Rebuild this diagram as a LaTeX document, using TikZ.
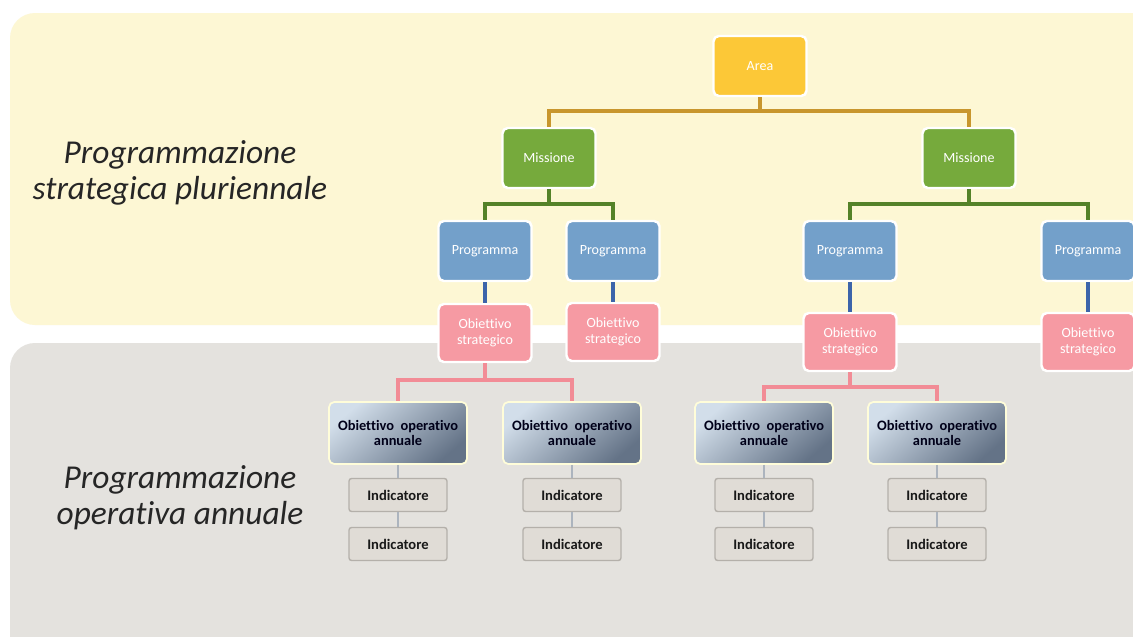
\documentclass[tikz,border=0pt]{standalone}
\usepackage{fontspec}
\setmainfont[Ligatures=CommonOff]{Carlito}
\usepackage{tikz}
\usetikzlibrary{positioning,calc}

\definecolor{panelyellow}{RGB}{253,247,212}
\definecolor{panelgray}{RGB}{228,226,222}
\definecolor{areafill}{RGB}{252,200,55}
\definecolor{misfill}{RGB}{118,170,60}
\definecolor{progfill}{RGB}{115,160,202}
\definecolor{osfill}{RGB}{246,154,163}
\definecolor{goldline}{RGB}{200,150,45}
\definecolor{greenline}{RGB}{84,130,40}
\definecolor{blueline}{RGB}{60,100,170}
\definecolor{pinkline}{RGB}{242,140,150}
\definecolor{grayline}{RGB}{172,180,190}
\definecolor{indfill}{RGB}{224,220,214}
\definecolor{inddraw}{RGB}{180,176,170}
\definecolor{ooalight}{RGB}{210,222,234}
\definecolor{ooadark}{RGB}{100,115,135}

\tikzset{
 topbox/.style={draw=white,line width=1.4pt,rounded corners=3pt,inner sep=0pt,
   text=white,align=center,font=\fontsize{8}{9}\selectfont,
   minimum width=1.86cm,minimum height=1.2cm},
 areabox/.style={topbox,fill=areafill},
 misbox/.style={topbox,fill=misfill},
 progbox/.style={topbox,fill=progfill},
 osbox/.style={topbox,fill=osfill,minimum height=1.16cm},
 ooabox/.style={draw=white!85!yellow,line width=1pt,rounded corners=3pt,inner sep=0pt,
   top color=ooalight,bottom color=ooadark,shading angle=40,
   text=black!90!blue,align=center,font=\fontsize{8.2}{9}\selectfont\bfseries,
   minimum width=2.76cm,minimum height=1.24cm},
 indbox/.style={draw=inddraw,line width=0.8pt,rounded corners=1.5pt,fill=indfill,inner sep=0pt,
   text=black!90,font=\fontsize{8.3}{9}\selectfont\bfseries,
   minimum width=1.96cm,minimum height=0.66cm},
 sidelabel/.style={align=center,text=black!85,font=\fontsize{19}{20.5}\selectfont\itshape},
 link/.style={line width=2pt},
}

\begin{document}
\begin{tikzpicture}[x=0.02cm,y=-0.02cm]
\clip (0,0) rectangle (1133,636);
\fill[white] (0,0) rectangle (1133,636);
% two bands
\fill[panelyellow,rounded corners=0.5cm] (10,13) rectangle (1160,325);
\fill[panelgray,rounded corners=0.5cm] (10,343) rectangle (1160,680);

\node[sidelabel] (lblstrat) at (180,173) {Programmazione\\strategica pluriennale};
\node[sidelabel] (lblop) at (180,498) {Programmazione\\operativa annuale};

% strategic tree
\node[areabox] (area) at (760,66) {Area};
\node[misbox] (mis1) at (549,158) {Missione};
\node[misbox] (mis2) at (969,158) {Missione};
\foreach \n/\x in {1/485,2/613,3/850,4/1088}
 \node[progbox] (prog\n) at (\x,251) {Programma};
\foreach \n/\x/\y in {1/485/333,2/613/332,3/850/342,4/1088/342}
 \node[osbox] (os\n) at (\x,\y) {Obiettivo\\strategico};

\draw[link,goldline] (area.south) -- ++(0,14) -| (mis1.north);
\draw[link,goldline] (area.south) ++(0,14) -| (mis2.north);
\draw[link,greenline] (mis1.south) -- ++(0,15) -| (prog1.north);
\draw[link,greenline] (mis1.south) ++(0,15) -| (prog2.north);
\draw[link,greenline] (mis2.south) -- ++(0,15) -| (prog3.north);
\draw[link,greenline] (mis2.south) ++(0,15) -| (prog4.north);
\foreach \n in {1,...,4}
 \draw[link,blueline] (prog\n) -- (os\n);

% operational tree
\foreach \n/\x in {1/398,2/572,3/764,4/937}
{\node[ooabox] (ooa\n) at (\x,433) {Obiettivo\ \ operativo\\annuale};
 \node[indbox] (ind\n a) at (\x,495) {Indicatore};
 \node[indbox] (ind\n b) at (\x,544) {Indicatore};
 \draw[link,grayline,line width=1.6pt] (ooa\n) -- (ind\n a);
 \draw[link,grayline,line width=1.6pt] (ind\n a) -- (ind\n b);}

\draw[link,pinkline] (os1.south) -- ++(0,17) -| (ooa1.north);
\draw[link,pinkline] (os1.south) ++(0,17) -| (ooa2.north);
\draw[link,pinkline] (os3.south) -- ++(0,15) -| (ooa3.north);
\draw[link,pinkline] (os3.south) ++(0,15) -| (ooa4.north);
\end{tikzpicture}
\end{document}
